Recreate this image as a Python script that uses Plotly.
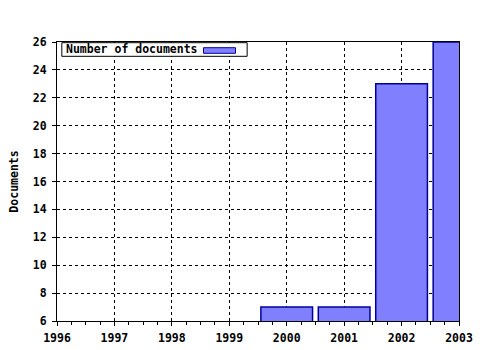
import plotly.graph_objects as go

years = [2000, 2001, 2002, 2003]
documents = [7, 7, 23, 26]
series_name = "Number of documents"
y_title = "Documents"
x_ticks = [1996, 1997, 1998, 1999, 2000, 2001, 2002, 2003]
y_ticks = list(range(6, 27, 2))

FONT = "DejaVu Sans Mono"
FILL = "#8080ff"
EDGE = "#000099"

fig = go.Figure()
fig.add_trace(go.Bar(
    x=years, y=documents, name=series_name,
    marker=dict(color=FILL, line=dict(color=EDGE, width=1.5)),
    width=0.9, showlegend=False,
))

# legend box drawn like the original (text first, swatch after)
fig.add_shape(type="rect", xref="paper", yref="paper",
              x0=0.012, x1=0.473, y0=0.9487, y1=0.9975,
              line=dict(color="black", width=1), fillcolor="white", layer="above")
fig.add_shape(type="rect", xref="paper", yref="paper",
              x0=0.3644, x1=0.444, y0=0.9595, y1=0.9796,
              line=dict(color=EDGE, width=1), fillcolor=FILL, layer="above")
fig.add_annotation(xref="paper", yref="paper", x=0.0175, y=0.974,
                   xanchor="left", yanchor="middle", showarrow=False,
                   text="<b>" + series_name + "</b>",
                   font=dict(family=FONT, size=11.5, color="black"))

fig.update_layout(
    width=480, height=350,
    margin=dict(l=57, r=21, t=42, b=29, autoexpand=False),
    paper_bgcolor="white", plot_bgcolor="white",
    font=dict(family=FONT, size=11.5, color="black"),
    showlegend=False,
    xaxis=dict(
        range=[1996, 2003], tickvals=x_ticks,
        ticktext=["<b>%d</b>" % v for v in x_ticks],
        showgrid=True, gridcolor="black", griddash="dot", gridwidth=1,
        showline=True, linecolor="black", linewidth=1, mirror=True,
        ticks="outside", ticklen=4, tickcolor="black",
        minor=dict(dtick=0.25, ticks="outside", ticklen=3, tickcolor="black", showgrid=False),
        tickfont=dict(family=FONT, size=11.5), zeroline=False,
        ticklabelstandoff=2, automargin=False,
    ),
    yaxis=dict(
        range=[6, 26], tickvals=y_ticks,
        ticktext=["<b>%d</b>" % v for v in y_ticks],
        showgrid=True, gridcolor="black", griddash="dot", gridwidth=1,
        showline=True, linecolor="black", linewidth=1, mirror=True,
        ticks="outside", ticklen=4, tickcolor="black",
        tickfont=dict(family=FONT, size=11.5), zeroline=False,
        ticklabelstandoff=3, automargin=False,
        title=dict(text="<b>" + y_title + "</b>", font=dict(family=FONT, size=11.5), standoff=11),
    ),
)

fig.write_html("out.html")
